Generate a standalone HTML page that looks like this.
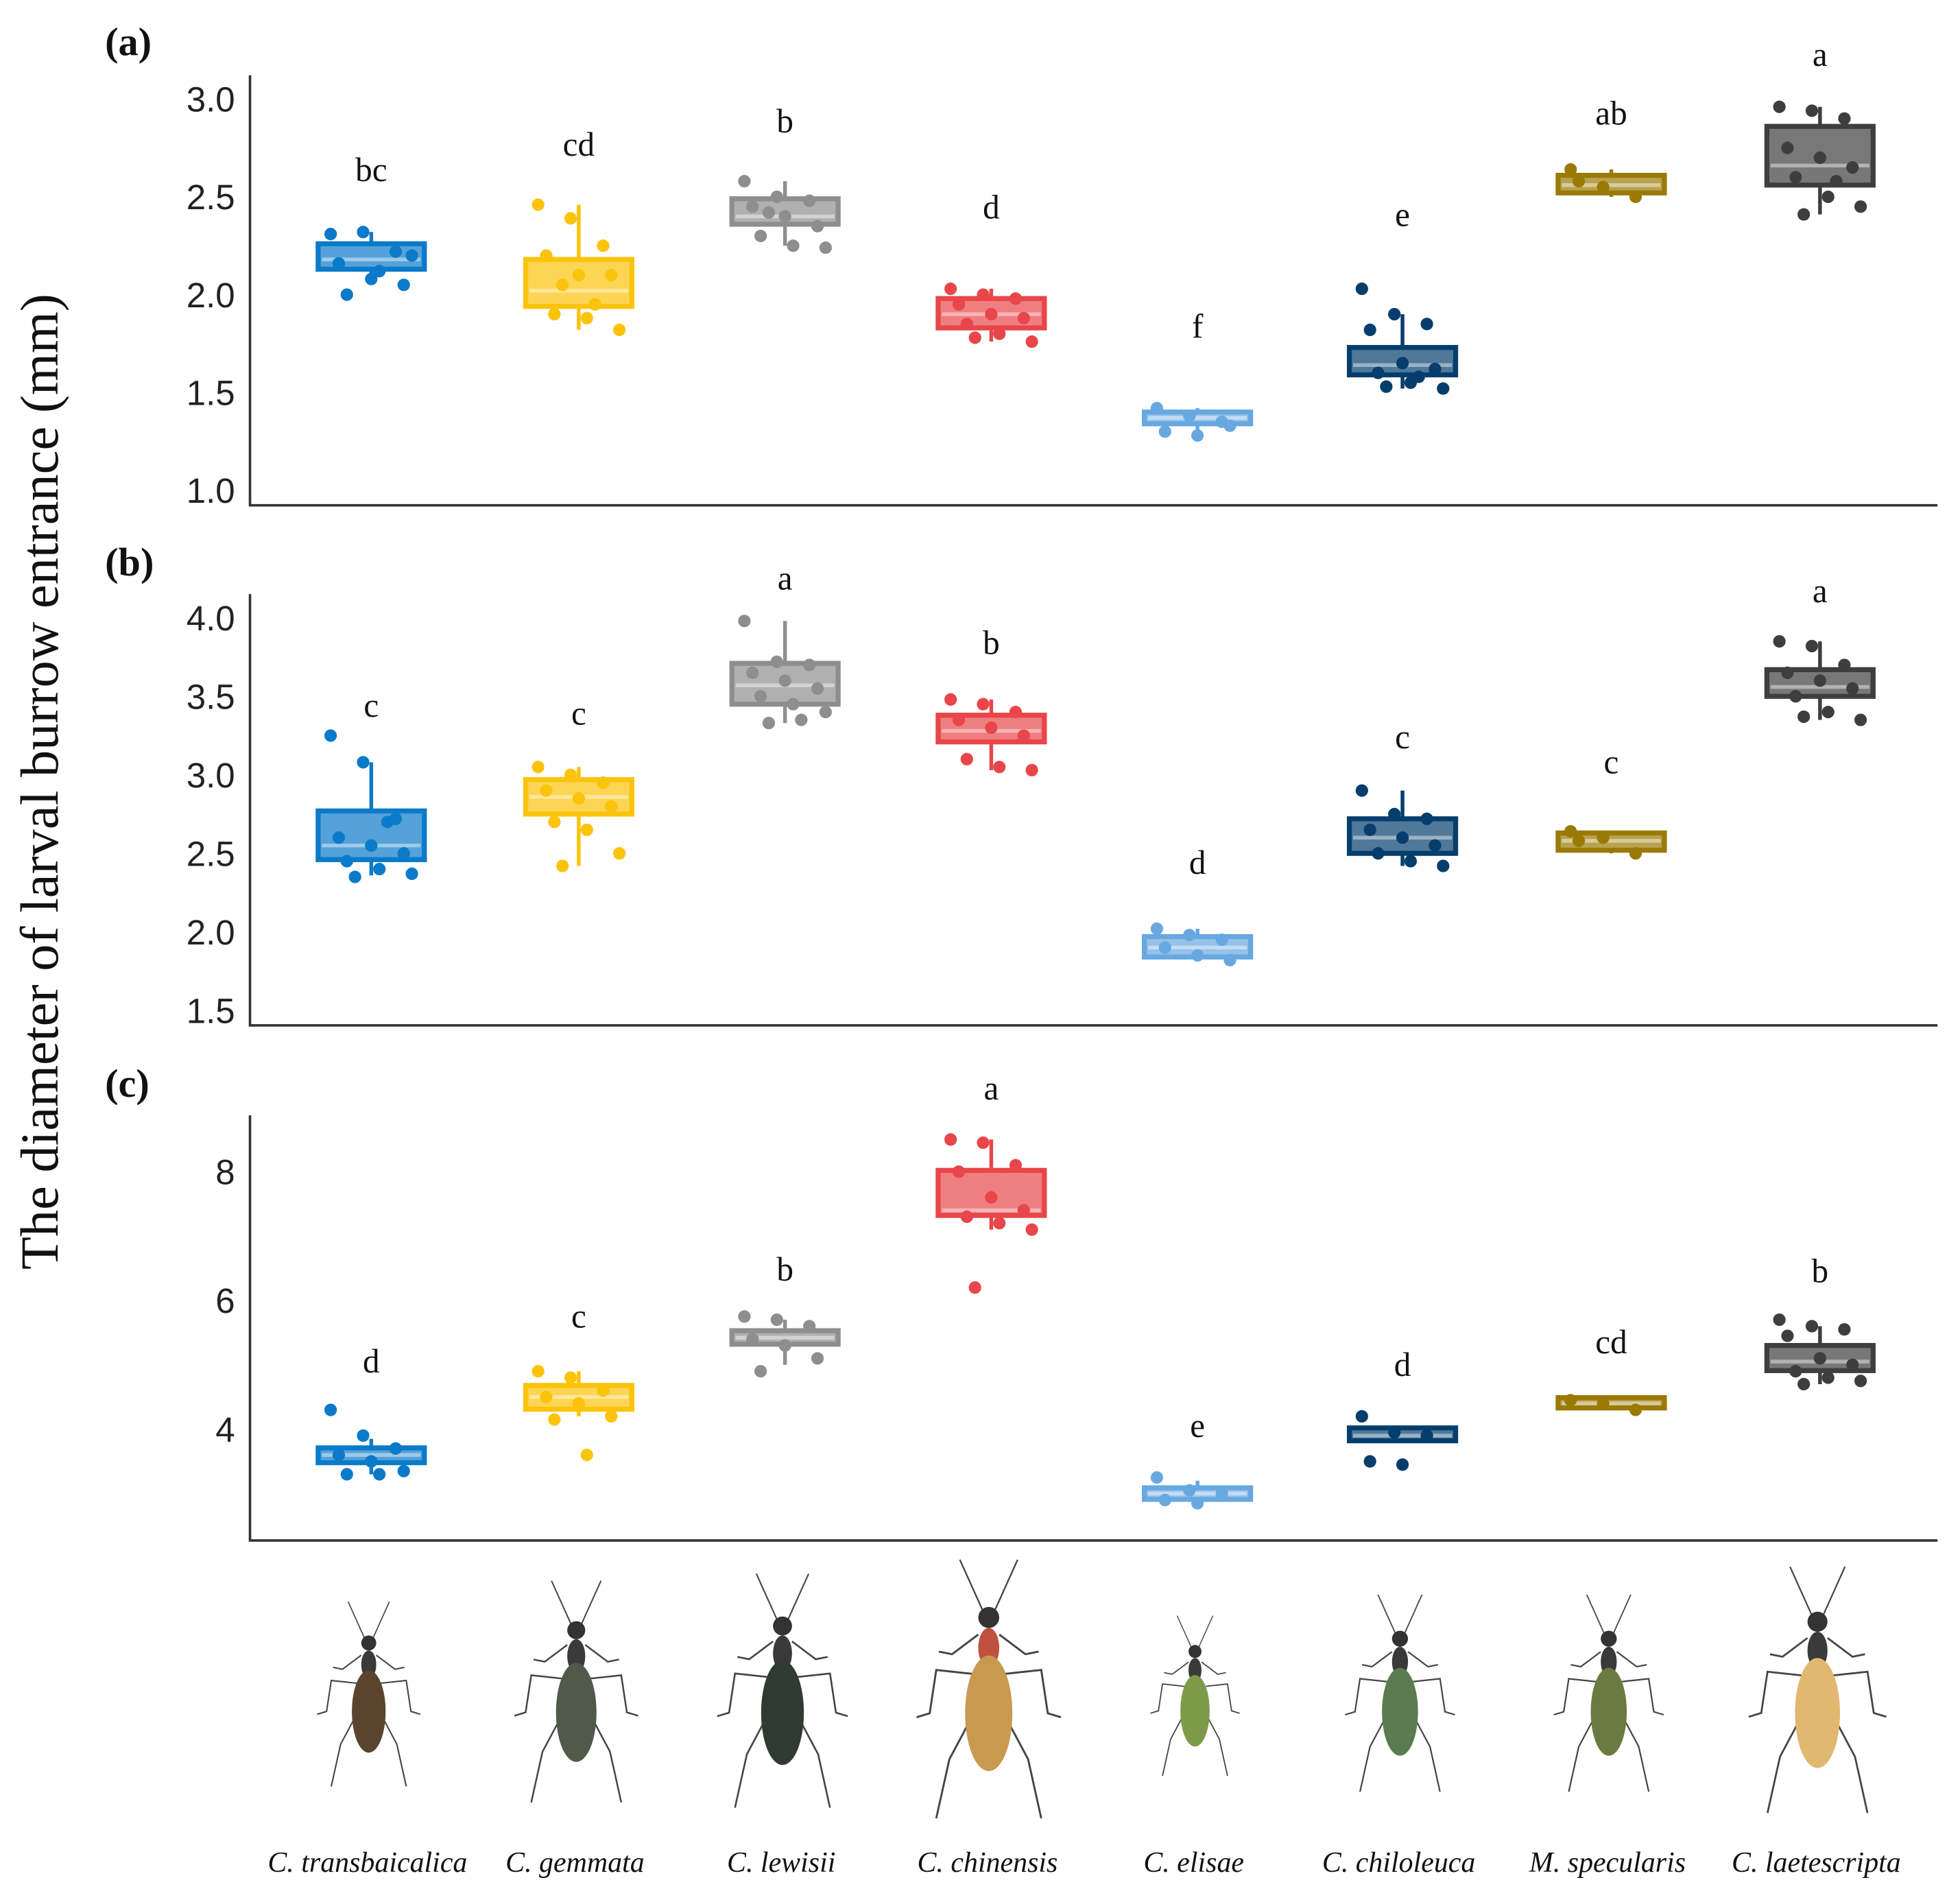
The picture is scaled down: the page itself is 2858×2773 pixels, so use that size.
<!DOCTYPE html>
<html><head><meta charset="utf-8">
<style>
html,body{margin:0;padding:0;background:#fff;}
svg{display:block;}
</style></head>
<body>
<svg id="fig" width="2858" height="2773" viewBox="0 0 1568 1521" xmlns="http://www.w3.org/2000/svg">
<rect width="1568" height="1521" fill="#fff"/>
<text transform="translate(46,625) rotate(-90)" text-anchor="middle" font-family="Liberation Serif, serif" font-size="43" fill="#111">The diameter of larval burrow entrance (mm)</text>
<g id="charts"></g>
<g id="beetles"></g>
</svg>
<script>
const species = ["C. transbaicalica","C. gemmata","C. lewisii","C. chinensis","C. elisae","C. chiloleuca","M. specularis","C. laetescripta"];
const colors = ["#0b7ac9","#fcc30b","#8e8e8e","#e8464a","#68a8e0","#053e6c","#9a7a05","#3e3e3e"];
// Panel (a)
const aQ1=[2.13,1.94,2.36,1.83,1.34,1.59,2.52,2.56];
const aMed=[2.18,2.02,2.40,1.90,1.37,1.64,2.56,2.66];
const aQ3=[2.26,2.18,2.49,1.98,1.40,1.73,2.61,2.86];
const aLo=[2.05,1.82,2.25,1.76,1.30,1.52,2.50,2.41];
const aHi=[2.32,2.46,2.58,2.03,1.42,1.90,2.64,2.96];
const aPts=[[2.31,2.32,2.22,2.16,2.08,2.05,2.0,2.12,2.2],[2.46,2.39,2.25,2.2,2.1,2.1,1.9,1.88,1.82,2.05,1.95],[2.58,2.5,2.48,2.45,2.4,2.35,2.3,2.25,2.24,2.42],[2.03,2.0,1.98,1.95,1.9,1.88,1.85,1.8,1.76,1.78],[1.42,1.38,1.35,1.30,1.28,1.33],[2.03,1.9,1.85,1.82,1.65,1.62,1.6,1.55,1.52,1.53,1.58],[2.64,2.55,2.5,2.58],[2.96,2.94,2.9,2.75,2.7,2.65,2.6,2.5,2.45,2.41,2.58]];
const aLetters=["bc","cd","b","d","f","e","ab","a"];
const aLetterY=[2.58,2.71,2.83,2.39,1.78,2.35,2.87,3.17];
const aTicks=[1.0,1.5,2.0,2.5,3.0];
// Panel (b)
const bQ1=[2.46,2.75,3.45,3.21,1.84,2.50,2.52,3.50];
const bMed=[2.55,2.86,3.57,3.28,1.90,2.60,2.58,3.56];
const bQ3=[2.77,2.97,3.71,3.38,1.97,2.72,2.63,3.67];
const bLo=[2.36,2.42,3.33,3.03,1.82,2.42,2.50,3.35];
const bHi=[3.08,3.05,3.98,3.48,2.02,2.90,2.64,3.85];
const bPts=[[3.25,3.08,2.72,2.6,2.55,2.5,2.45,2.4,2.37,2.35,2.7],[3.05,3.0,2.95,2.9,2.85,2.8,2.7,2.65,2.5,2.42],[3.98,3.72,3.7,3.65,3.6,3.55,3.5,3.45,3.4,3.33,3.35],[3.48,3.45,3.4,3.35,3.3,3.25,3.1,3.05,3.03],[2.02,1.98,1.95,1.9,1.85,1.82],[2.9,2.75,2.72,2.65,2.6,2.55,2.5,2.45,2.42],[2.64,2.6,2.5,2.58],[3.85,3.82,3.7,3.65,3.6,3.55,3.5,3.4,3.35,3.37]];
const bLetters=["c","c","a","b","d","c","c","a"];
const bLetterY=[3.37,3.32,4.18,3.77,2.37,3.17,3.01,4.10];
const bTicks=[1.5,2.0,2.5,3.0,3.5,4.0];
// Panel (c)
const cQ1=[3.48,4.31,5.32,7.32,2.91,3.82,4.33,4.91];
const cMed=[3.60,4.50,5.42,7.40,3.00,3.90,4.40,5.05];
const cQ3=[3.71,4.68,5.53,8.02,3.09,4.02,4.49,5.30];
const cLo=[3.30,4.20,5.00,7.10,2.85,3.82,4.30,4.70];
const cHi=[3.85,4.90,5.70,8.50,3.20,4.05,4.50,5.60];
const cPts=[[4.3,3.9,3.7,3.6,3.5,3.35,3.3,3.3],[4.9,4.8,4.6,4.5,4.4,4.2,4.15,3.6],[5.75,5.7,5.6,5.4,5.3,5.1,4.9],[8.5,8.45,8.1,8.0,7.6,7.4,7.3,7.2,7.1,6.2],[3.25,3.05,3.0,2.9,2.85],[4.2,3.95,3.9,3.5,3.45],[4.45,4.4,4.3],[5.7,5.6,5.55,5.45,5.1,5.0,4.9,4.8,4.75,4.7]];
const cLetters=["d","c","b","a","e","d","cd","b"];
const cLetterY=[4.88,5.58,6.31,9.12,3.88,4.83,5.18,6.28];
const cTicks=[4,6,8];

const NS="http://www.w3.org/2000/svg";
const xCenters=[297,463,628,793,958,1122,1289,1456];
function mk(tag,attrs,parent){const e=document.createElementNS(NS,tag);for(const k in attrs)e.setAttribute(k,attrs[k]);parent.appendChild(e);return e;}
function lighten(hex,f){const n=parseInt(hex.slice(1),16);let r=n>>16,g=(n>>8)&255,b=n&255;r=Math.round(r+(255-r)*f);g=Math.round(g+(255-g)*f);b=Math.round(b+(255-b)*f);return `rgb(${r},${g},${b})`;}
const charts=document.getElementById('charts');
function panel(p){
  const g=mk('g',{},charts);
  
  
  const y=v=>p.y0+(v-p.v0)*(p.y1-p.y0)/(p.v1-p.v0);
  const lab=mk('text',{x:84,y:p.labY,'font-family':'Liberation Serif, serif','font-size':32,'font-weight':'bold',fill:'#111'},g);
  lab.textContent='('+p.id+')';
  
  
  const ax=mk('path',{d:`M200,${p.top} L200,${p.bottom} L1550,${p.bottom}`,fill:'none',stroke:'#333','stroke-width':2},g);
  
  
  p.ticks.forEach(t=>{
    const tx=mk('text',{x:188,y:y(t)+10,'text-anchor':'end','font-family':'Liberation Sans, sans-serif','font-size':28,fill:'#222'},g);
    tx.textContent=p.fmt(t);
    
    
  });
  for(let i=0;i<8;i++){
    const cx=xCenters[i],col=colors[i],w=85;
    const bg=mk('g',{},g);
    
    
    mk('line',{x1:cx,x2:cx,y1:y(p.hi[i]),y2:y(p.lo[i]),stroke:col,'stroke-width':3},bg);
    const yt=y(p.q3[i]),yb=y(p.q1[i]);
    mk('rect',{x:cx-w/2,y:yt,width:w,height:Math.max(yb-yt,4),fill:lighten(col,0.3),stroke:col,'stroke-width':4},bg);
    const ym=y(p.med[i]);
    mk('line',{x1:cx-w/2+3,x2:cx+w/2-3,y1:ym,y2:ym,stroke:lighten(col,0.6),'stroke-width':3},bg);
    p.pts[i].forEach((v,j)=>{
      const off=((j*37)%11-5)*6.5;
      const c=mk('circle',{cx:cx+off,cy:y(v),r:5,fill:col},bg);
      
      
    });
    const lt=mk('text',{x:cx,y:y(p.letY[i]),'text-anchor':'middle','font-family':'Liberation Serif, serif','font-size':27,fill:'#111'},g);
    lt.textContent=p.letters[i];
    
    
  }
}
panel({id:'a',labY:44,top:60,bottom:404,v0:3.0,y0:79,v1:1.0,y1:392,ticks:aTicks,fmt:t=>t.toFixed(1),q1:aQ1,med:aMed,q3:aQ3,lo:aLo,hi:aHi,pts:aPts,letters:aLetters,letY:aLetterY});
panel({id:'b',labY:460,top:475,bottom:820,v0:4.0,y0:494,v1:1.5,y1:808,ticks:bTicks,fmt:t=>t.toFixed(1),q1:bQ1,med:bMed,q3:bQ3,lo:bLo,hi:bHi,pts:bPts,letters:bLetters,letY:bLetterY});
panel({id:'c',labY:877,top:892,bottom:1232,v0:8,y0:937,v1:6,y1:1040,ticks:cTicks,fmt:t=>String(t),q1:cQ1,med:cMed,q3:cQ3,lo:cLo,hi:cHi,pts:cPts,letters:cLetters,letY:cLetterY});

// beetle illustrations
const bodyCols=["#5a4430","#4f5a4a","#2e3a32","#c89a50","#7d9a4a","#5a7a50","#6a7a40","#e0b870"];
const scales=[0.75,0.9,0.95,1.05,0.65,0.8,0.8,1.0];
const beetles=document.getElementById('beetles');
for(let i=0;i<8;i++){
  const cx=xCenters[i]-2,s=scales[i],cy=1365;
  const g=mk('g',{transform:`translate(${cx},${cy}) scale(${s})`},beetles);
  
  
  const lc='#444';
  [[-1],[1]].forEach(([d])=>{
    mk('path',{d:`M${d*8},-55 L${d*28},-40 L${d*38},-42`,fill:'none',stroke:lc,'stroke-width':1.5},g);
    mk('path',{d:`M${d*12},-25 L${d*40},-28 L${d*45},5 L${d*55},8`,fill:'none',stroke:lc,'stroke-width':1.5},g);
    mk('path',{d:`M${d*14},10 L${d*30},40 L${d*40},85`,fill:'none',stroke:lc,'stroke-width':1.5},g);
    mk('path',{d:`M${d*4},-72 L${d*22},-112`,fill:'none',stroke:lc,'stroke-width':1.2},g);
  });
  mk('ellipse',{cx:0,cy:-68,rx:8,ry:8,fill:'#333'},g);
  mk('ellipse',{cx:0,cy:-45,rx:8,ry:15,fill:i==3?'#c05040':'#3a3a3a'},g);
  mk('ellipse',{cx:0,cy:5,rx:18,ry:44,fill:bodyCols[i]},g);
}
species.forEach((n,i)=>{
  const t=mk('text',{x:xCenters[i]-3,y:1497,'text-anchor':'middle','font-family':'Liberation Serif, serif','font-size':23,'font-style':'italic',fill:'#111'},beetles);
  t.textContent=n;
  
  
});
</script>
</body></html>
